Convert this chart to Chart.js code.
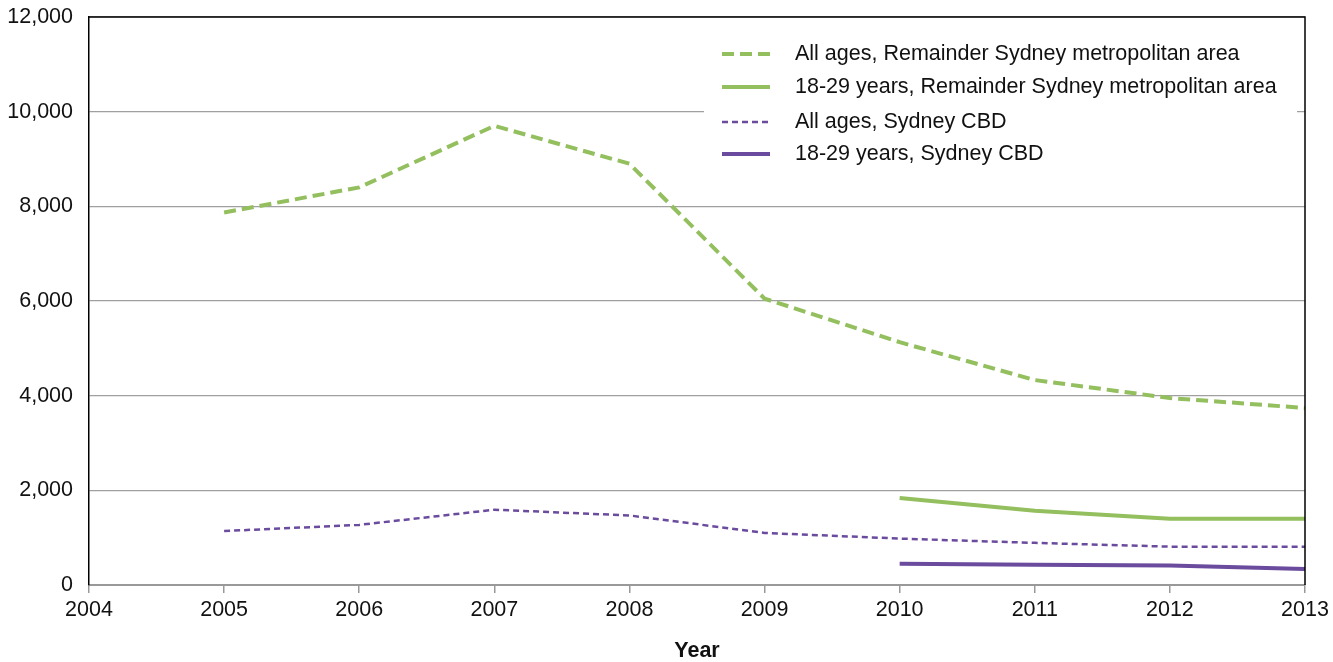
<!DOCTYPE html>
<html>
<head>
<meta charset="utf-8">
<script src="https://cdn.jsdelivr.net/npm/chart.js@4/dist/chart.umd.min.js"></script>
<style>
  html, body { margin: 0; padding: 0; background: #fff; }
  #wrap { width: 1333px; height: 662px; position: relative; }
</style>
</head>
<body>
<div id="wrap"><canvas id="grafico"></canvas></div>
<script>
// Dados
const anos = [2005, 2006, 2007, 2008, 2009, 2010, 2011, 2012, 2013];
const anosRecentes = [2010, 2011, 2012, 2013];
const todasIdadesRestante = [7870, 8400, 9700, 8900, 6050, 5130, 4330, 3950, 3740];
const jovensRestante = [1840, 1570, 1400, 1400];
const todasIdadesCBD = [1140, 1270, 1590, 1470, 1100, 980, 890, 810, 810];
const jovensCBD = [450, 430, 410, 340];
const rotulos = [
  "All ages, Remainder Sydney metropolitan area",
  "18-29 years, Remainder Sydney metropolitan area",
  "All ages, Sydney CBD",
  "18-29 years, Sydney CBD"
];

const VERDE = "#93bf5e";
const ROXO = "#6a4b9e";
const FONTE = "'Liberation Sans', Arial, sans-serif";
const TAM = 21.5;

const pontos = (xs, ys) => xs.map((x, i) => ({ x, y: ys[i] }));

const datasets = [
  { label: rotulos[0], data: pontos(anos, todasIdadesRestante), borderColor: VERDE, borderWidth: 4, borderDash: [12, 6] },
  { label: rotulos[1], data: pontos(anosRecentes, jovensRestante), borderColor: VERDE, borderWidth: 4, borderDash: [] },
  { label: rotulos[2], data: pontos(anos, todasIdadesCBD), borderColor: ROXO, borderWidth: 2.5, borderDash: [6, 4] },
  { label: rotulos[3], data: pontos(anosRecentes, jovensCBD), borderColor: ROXO, borderWidth: 4, borderDash: [] }
].map(d => ({ ...d, pointRadius: 0, fill: false, tension: 0, borderCapStyle: "butt" }));

// legenda dentro da área do gráfico + moldura superior/direita
const legendaInterna = {
  id: "legendaInterna",
  afterDraw(chart) {
    const { ctx, chartArea } = chart;
    ctx.save();
    ctx.fillStyle = "#fff";
    ctx.fillRect(704, 30, 593, 145);
    const ys = [54, 87, 122, 154];
    chart.data.datasets.forEach((ds, i) => {
      ctx.beginPath();
      ctx.strokeStyle = ds.borderColor;
      ctx.lineWidth = ds.borderWidth;
      ctx.setLineDash(ds.borderDash || []);
      ctx.moveTo(722, ys[i]);
      ctx.lineTo(770, ys[i]);
      ctx.stroke();
      ctx.setLineDash([]);
      ctx.fillStyle = "#111";
      ctx.font = TAM + "px " + FONTE;
      ctx.textBaseline = "middle";
      ctx.textAlign = "left";
      ctx.fillText(ds.label, 795, ys[i]);
    });
    ctx.beginPath();
    ctx.strokeStyle = "#000";
    ctx.lineWidth = 1.5;
    ctx.moveTo(chartArea.left, chartArea.top);
    ctx.lineTo(chartArea.right, chartArea.top);
    ctx.lineTo(chartArea.right, chartArea.bottom);
    ctx.stroke();
    ctx.restore();
  }
};

new Chart(document.getElementById("grafico"), {
  type: "line",
  data: { datasets },
  plugins: [legendaInterna],
  options: {
    responsive: true,
    maintainAspectRatio: false,
    animation: false,
    layout: { padding: { top: 17, right: 28, left: 0, bottom: 0 } },
    plugins: { legend: { display: false }, tooltip: { enabled: false } },
    scales: {
      x: {
        type: "linear",
        min: 2004,
        max: 2013,
        afterFit: s => { s.height = 77; s.paddingLeft = 0; s.paddingRight = 0; },
        ticks: {
          stepSize: 1,
          color: "#111",
          font: { family: FONTE, size: TAM },
          padding: 4,
          maxRotation: 0,
          callback: v => String(v)
        },
        grid: { drawOnChartArea: false, drawTicks: true, tickLength: 8, color: "#999", lineWidth: 1.5 },
        border: { color: "#999", width: 2 },
        title: { display: true, text: "Year", color: "#111", font: { family: FONTE, size: TAM, weight: "bold", lineHeight: 1 }, padding: { top: 0, bottom: 0 } }
      },
      y: {
        min: 0,
        max: 12000,
        afterFit: s => { s.width = 89; s.paddingTop = 0; s.paddingBottom = 0; },
        ticks: {
          stepSize: 2000,
          color: "#111",
          font: { family: FONTE, size: TAM },
          padding: 16,
          callback: v => v.toLocaleString("en-US")
        },
        grid: { color: "#a0a0a0", lineWidth: 1.2, drawTicks: false },
        border: { color: "#000", width: 1.5 }
      }
    }
  }
});
</script>
</body>
</html>
